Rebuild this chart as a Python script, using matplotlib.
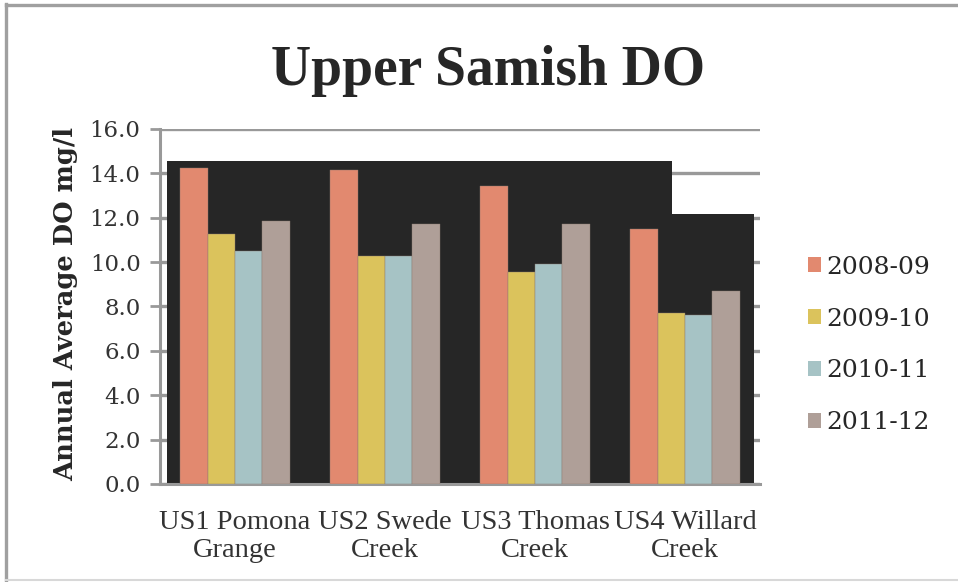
import numpy as np
import matplotlib
matplotlib.use("Agg")
import matplotlib.pyplot as plt
from matplotlib.lines import Line2D
from matplotlib.patches import Patch

sites = ["US1 Pomona\nGrange", "US2 Swede\nCreek", "US3 Thomas\nCreek", "US4 Willard\nCreek"]
years = ["2008-09", "2009-10", "2010-11", "2011-12"]
do_0809 = [14.22, 14.14, 13.42, 11.49]
do_0910 = [11.25, 10.27, 9.56, 7.72]
do_1011 = [10.51, 10.28, 9.91, 7.60]
do_1112 = [11.85, 11.71, 11.71, 8.69]
colors = ["#E2896F", "#DBC35C", "#A6C3C5", "#AF9F98"]

series = [do_0809, do_0910, do_1011, do_1112]

fig = plt.figure(figsize=(9.58, 5.82), dpi=100)
ax = fig.add_axes([0.167, 0.1684, 0.6263, 0.61])

x = np.arange(len(sites))
w = 0.183
for i, vals in enumerate(series):
    ax.bar(x + (i - 1.5) * w, vals, w, color=colors[i], zorder=3,
           edgecolor="#8a7a70", linewidth=0.3, label=years[i])

# dark plot-area fill behind the bars
ax.fill_between([-0.453, 2.913, 3.463], [14.57, 12.17, 12.17], 0,
                step="post", color="#262626", zorder=2, linewidth=0)

ax.set_xlim(-0.5, 3.5)
ax.set_ylim(0, 16)
ax.set_yticks(np.arange(0, 17, 2))
ax.set_yticklabels(["%.1f" % v for v in np.arange(0, 17, 2)],
                   family="DejaVu Serif", fontsize=16.5, color="#333333")
ax.set_xticks(x)
ax.set_xticklabels(sites, family="Liberation Serif", fontsize=20.5,
                   color="#333333", linespacing=1.15)
ax.tick_params(axis="x", length=0, pad=19)
ax.tick_params(axis="y", length=7, width=2, color="#999999", pad=7)

ax.yaxis.grid(True, color="#999999", linewidth=2.4, zorder=0)
ax.set_axisbelow(True)
for s in ["top", "right"]:
    ax.spines[s].set_visible(False)
for s in ["left", "bottom"]:
    ax.spines[s].set_color("#999999")
    ax.spines[s].set_linewidth(2.2)

fig.text(0.509, 0.854, "Upper Samish DO", family="Liberation Serif",
         fontweight="bold", fontsize=40, color="#262626",
         ha="center", va="baseline")
fig.text(0.069, 0.478, "Annual Average DO mg/l", family="DejaVu Serif",
         fontweight="bold", fontsize=18.5, color="#262626",
         rotation=90, ha="center", va="center")

handles = [Patch(facecolor=c, edgecolor="none") for c in colors]
leg = fig.legend(handles, years, loc="upper left",
                 bbox_to_anchor=(0.83, 0.582), frameon=False,
                 prop={"family": "DejaVu Serif", "size": 18},
                 handlelength=0.55, handleheight=0.55, handletextpad=0.2,
                 labelspacing=1.15, borderpad=0)
for t in leg.get_texts():
    t.set_color("#262626")

# outer frame lines
fig.add_artist(Line2D([0.0065, 0.0065], [0, 0.993], color="#a0a0a0",
                      linewidth=2.4, transform=fig.transFigure))
fig.add_artist(Line2D([0.0065, 1], [0.991, 0.991], color="#a0a0a0",
                      linewidth=2.4, transform=fig.transFigure))
fig.add_artist(Line2D([0.0065, 1], [0.003, 0.003], color="#d8d8d8",
                      linewidth=1.5, transform=fig.transFigure))

fig.savefig("out.png", dpi=100)
